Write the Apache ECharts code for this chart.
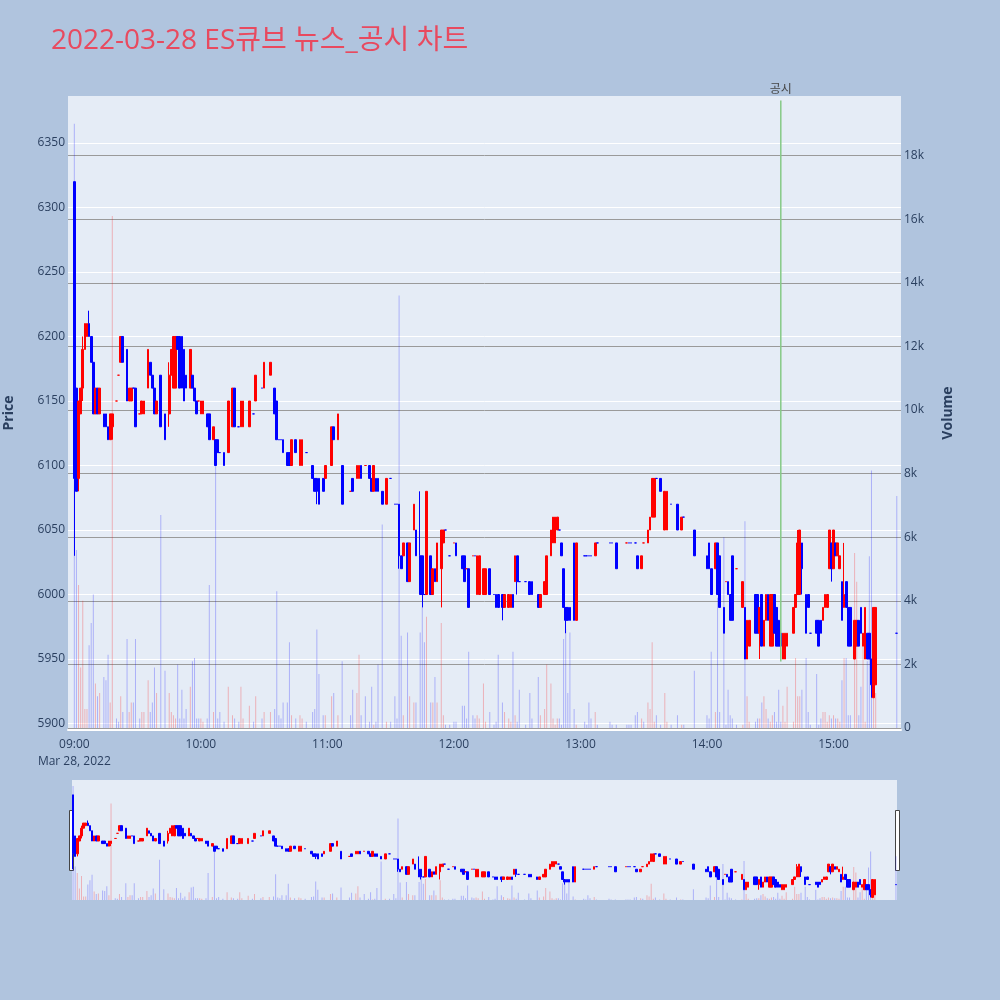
<!DOCTYPE html>
<html>
<head>
<meta charset="utf-8">
<script src="https://cdn.jsdelivr.net/npm/echarts@6/dist/echarts.min.js"></script>
<style>
  html, body { margin: 0; padding: 0; background: #b0c4de; }
  #chart { width: 1000px; height: 1000px; }
</style>
</head>
<body>
<div id="chart"></div>
<script>
// 1분봉 시각 (거래 없는 분은 빠짐)
const times = [
  '09:00','09:01','09:02','09:03','09:04','09:05','09:06','09:07','09:08','09:09',
  '09:10','09:11','09:12','09:14','09:15','09:16','09:17','09:18','09:20','09:21',
  '09:22','09:23','09:25','09:26','09:27','09:28','09:29','09:31','09:32','09:33',
  '09:35','09:36','09:37','09:38','09:39','09:41','09:43','09:45','09:46','09:47',
  '09:48','09:49','09:50','09:51','09:52','09:53','09:55','09:56','09:57','09:58',
  '09:59',
  '10:00','10:01','10:03','10:04','10:06','10:07','10:08','10:09','10:11','10:13',
  '10:15','10:16','10:18','10:19','10:20','10:23','10:25','10:26','10:29','10:30',
  '10:33','10:35','10:36','10:37','10:38','10:39','10:41','10:42','10:43','10:45',
  '10:47','10:48','10:50','10:53','10:54','10:55','10:56','10:58','10:59',
  '11:02','11:03','11:05','11:07','11:11','11:12','11:14','11:15','11:16','11:18',
  '11:20','11:21','11:22','11:23','11:24','11:26','11:28','11:30','11:32','11:33',
  '11:34','11:35','11:36','11:38','11:39','11:41','11:42','11:44','11:45','11:46',
  '11:47','11:49','11:50','11:51','11:52','11:54','11:55','11:56','11:58',
  '12:00','12:01','12:04','12:05','12:06','12:07','12:09','12:10','12:11','12:12',
  '12:14','12:15','12:17','12:19','12:20','12:21','12:23','12:24','12:26','12:27',
  '12:28','12:29','12:30','12:31','12:34','12:36','12:37','12:40','12:41','12:43',
  '12:44','12:46','12:47','12:48','12:49','12:50','12:51','12:52','12:53','12:54',
  '12:55','12:57','12:58',
  '13:02','13:03','13:04','13:05','13:07','13:08','13:14','13:15','13:17','13:22',
  '13:23','13:24','13:26','13:27','13:29','13:30','13:32','13:33','13:34','13:35',
  '13:36','13:38','13:40','13:41','13:43','13:46','13:48','13:49','13:54',
  '14:00','14:01','14:02','14:04','14:05','14:06','14:08','14:09','14:10','14:11',
  '14:12','14:14','14:17','14:18','14:19','14:20','14:23','14:24','14:25','14:26',
  '14:27','14:28','14:29','14:30','14:31','14:32','14:33','14:34','14:35','14:36',
  '14:37','14:38','14:41','14:42','14:43','14:44','14:45','14:47','14:48','14:49',
  '14:52','14:53','14:54','14:55','14:56','14:57','14:58','14:59','15:00',
  '15:01','15:02','15:03','15:04','15:05','15:06','15:07','15:08','15:10','15:11',
  '15:12','15:13','15:14','15:15','15:16','15:17','15:18','15:19','15:20','15:30'
];

const opens = [
  6320,6160,6090,6140,6160,6190,6200,6210,6200,6180, 6140,6160,6140,6140,6140,6130,6120,6130,6150,6170,
  6180,6200,6190,6150,6150,6160,6160,6140,6140,6140, 6160,6180,6170,6160,6140,6170,6140,6140,6170,6160,
  6160,6200,6200,6200,6190,6170,6160,6170,6160,6150, 6150,
  6140,6140,6140,6140,6120,6120,6120,6110,6110,6110, 6130,6160,6130,6130,6130,6130,6140,6150,6160,6160,
  6170,6160,6150,6120,6120,6120,6110,6110,6100,6120, 6100,6100,6110,6100,6090,6090,6090,6090,6090,
  6100,6130,6120,6100,6080,6090,6090,6090,6100,6100, 6100,6090,6080,6090,6090,6080,6070,6090,6070,6070,
  6070,6030,6030,6040,6010,6050,6050,6030,6030,6000, 6000,6030,6000,6020,6010,6020,6040,6050,6030,
  6040,6040,6030,6030,6020,6020,6030,6030,6000,6000, 6000,6000,6020,6000,6000,6000,6000,5990,5990,5990,
  6000,6010,6030,6010,6010,6010,6010,6000,5990,6000, 6000,6030,6040,6040,6050,6050,6040,6020,5990,5990,
  5990,6040,5980,
  6030,6030,6030,6030,6030,6040,6040,6040,6040,6040, 6040,6040,6040,6030,6020,6040,6040,6050,6060,6060,
  6090,6090,6050,6050,6070,6070,6050,6060,6050,
  6030,6040,6020,6020,6040,6030,5990,6010,6010,6000, 6030,6020,5990,5990,5950,5960,6000,6000,5970,6000,
  5960,5980,6000,5960,5960,6000,5990,5980,5970,5950, 5950,5960,5970,5990,6000,6000,6040,6000,6000,5970,
  5980,5980,5980,5980,5990,5990,6020,6040,6020,
  6040,6030,6020,6010,5990,6010,5990,5990,5950,5960, 5980,5990,5960,5950,5970,5970,5950,5920,5930,5970
];

const highs = [
  6320,6160,6150,6160,6200,6210,6210,6220,6200,6180, 6160,6160,6160,6140,6140,6130,6140,6140,6150,6170,
  6200,6200,6190,6160,6160,6160,6160,6140,6150,6150, 6190,6180,6170,6160,6150,6170,6140,6180,6190,6200,
  6200,6200,6200,6200,6190,6170,6190,6170,6160,6150, 6150,
  6150,6150,6140,6140,6130,6120,6120,6110,6110,6150, 6160,6160,6130,6150,6150,6150,6140,6170,6160,6180,
  6180,6160,6150,6120,6120,6120,6110,6110,6120,6120, 6120,6120,6110,6100,6090,6090,6090,6090,6100,
  6130,6130,6140,6100,6080,6090,6100,6100,6100,6100, 6100,6090,6100,6090,6090,6080,6090,6090,6070,6070,
  6070,6030,6040,6040,6040,6070,6050,6080,6030,6000, 6080,6030,6020,6020,6040,6050,6050,6050,6030,
  6040,6040,6030,6030,6020,6020,6030,6030,6030,6030, 6020,6020,6020,6000,6000,6000,6000,6000,6000,6000,
  6000,6030,6030,6010,6010,6010,6010,6000,6000,6010, 6030,6050,6060,6060,6060,6050,6040,6020,5990,5990,
  5990,6040,6040,
  6030,6030,6030,6030,6040,6040,6040,6040,6040,6040, 6040,6040,6040,6030,6030,6040,6050,6060,6090,6090,
  6090,6090,6080,6080,6070,6070,6060,6060,6050,
  6030,6040,6020,6040,6040,6030,5990,6010,6010,6000, 6030,6020,6010,5990,5980,5980,6000,6000,5990,6000,
  5980,6000,6000,6000,6000,6000,5990,5980,5970,5970, 5970,5970,5990,6000,6050,6050,6040,6000,6000,5970,
  5980,5980,5980,5990,6000,6000,6050,6040,6050,
  6040,6040,6030,6010,6040,6010,5990,5990,5980,5980, 5980,5990,5970,5990,5970,5970,5950,5990,5990,5970
];

const lows = [
  6030,6080,6080,6140,6150,6190,6200,6200,6180,6140, 6140,6140,6140,6130,6130,6120,6120,6120,6150,6170,
  6180,6180,6150,6150,6150,6160,6130,6140,6140,6140, 6160,6170,6160,6140,6140,6130,6120,6130,6170,6160,
  6160,6190,6160,6160,6150,6160,6160,6160,6150,6140, 6150,
  6140,6140,6130,6120,6120,6100,6110,6110,6100,6110, 6130,6130,6130,6130,6130,6130,6140,6150,6160,6160,
  6170,6140,6120,6120,6120,6110,6100,6100,6100,6110, 6100,6100,6110,6090,6080,6070,6070,6080,6090,
  6100,6120,6120,6070,6080,6080,6090,6090,6090,6100, 6090,6080,6080,6080,6080,6070,6070,6090,6070,6070,
  6020,6020,6030,6010,6010,6050,6030,6000,5990,6000, 6000,6000,6000,6010,6010,5990,6040,6050,6030,
  6040,6030,6020,6010,6020,5990,6030,6030,6000,6000, 6000,6000,6000,6000,5990,5990,5980,5990,5990,5990,
  5990,6010,6000,6010,6010,6000,6000,5990,5990,6000, 6000,6030,6040,6040,6050,6050,6030,5990,5970,5980,
  5980,5980,5980,
  6030,6030,6030,6030,6030,6040,6040,6040,6020,6040, 6040,6040,6040,6020,6020,6040,6040,6050,6060,6060,
  6090,6080,6050,6050,6070,6050,6050,6060,6030,
  6020,6020,6000,6020,6000,5990,5970,6010,6000,5980, 5980,6020,5990,5950,5950,5960,5970,5970,5950,5960,
  5960,5980,5980,5960,5960,5970,5960,5960,5960,5950, 5950,5960,5970,5990,6000,6000,6000,5970,5990,5970,
  5970,5960,5970,5980,5990,5990,6020,6010,6020,
  6030,6030,6020,5980,5990,5990,5960,5960,5950,5960, 5960,5970,5960,5950,5950,5950,5920,5920,5930,5970
];

const closes = [
  6090,6080,6150,6160,6190,6210,6210,6200,6180,6140, 6160,6140,6160,6130,6130,6120,6140,6140,6150,6170,
  6200,6180,6150,6160,6160,6160,6130,6140,6150,6150, 6190,6170,6160,6140,6150,6130,6120,6170,6190,6200,
  6200,6190,6160,6160,6150,6160,6190,6160,6150,6140, 6150,
  6150,6150,6130,6120,6130,6100,6110,6110,6100,6150, 6160,6130,6130,6150,6150,6150,6140,6170,6160,6180,
  6180,6140,6120,6120,6120,6110,6100,6100,6120,6110, 6120,6120,6110,6090,6080,6080,6070,6080,6100,
  6130,6120,6140,6070,6080,6080,6100,6100,6090,6100, 6090,6080,6100,6080,6080,6070,6090,6090,6070,6070,
  6030,6020,6040,6010,6040,6070,6030,6000,6000,6000, 6080,6000,6020,6010,6040,6050,6050,6050,6030,
  6040,6030,6020,6010,6020,5990,6030,6030,6030,6030, 6020,6020,6000,6000,5990,5990,5990,6000,6000,6000,
  5990,6030,6010,6010,6010,6000,6000,5990,6000,6010, 6030,6050,6060,6060,6060,6050,6030,5990,5980,5980,
  5980,5980,6040,
  6030,6030,6030,6030,6040,6040,6040,6040,6020,6040, 6040,6040,6040,6020,6030,6040,6050,6060,6090,6090,
  6090,6080,6080,6080,6070,6050,6060,6060,6030,
  6020,6020,6000,6040,6000,5990,5970,6010,6000,5980, 5980,6020,6010,5950,5980,5980,5970,5970,5990,5960,
  5980,6000,5980,6000,6000,5970,5960,5960,5960,5970, 5970,5970,5990,6000,6040,6050,6020,5970,5990,5970,
  5970,5960,5970,5990,6000,6000,6050,6020,6050,
  6030,6040,6030,5980,6000,5990,5960,5960,5980,5980, 5960,5970,5970,5990,5950,5950,5930,5990,5990,5970
];

const volumes = [
  19000,5600,4500,1900,4000,600,600,2600,3300,4200, 1400,1000,1100,1600,1500,2300,800,16100,300,200,
  1000,500,2800,500,800,800,2800,300,500,500, 1500,500,800,1900,1100,6700,1800,1100,500,400,
  300,2000,300,1200,300,600,1300,2100,2200,300, 300,
  300,200,300,4500,500,8400,300,500,200,1300, 400,300,200,1300,300,700,200,1000,300,500,
  500,600,4300,400,300,800,800,2700,400,300, 400,300,200,500,600,3100,1700,400,400,
  1000,1100,400,2100,400,1200,1100,2300,400,1000, 200,1300,100,200,2000,6400,200,200,1000,300,
  13600,2900,400,3000,1000,800,800,3000,3800,2700, 3500,800,800,1600,800,3300,400,100,100,
  200,200,700,700,300,2400,400,300,400,300, 1400,200,500,100,200,2300,800,500,300,200,
  2400,400,200,1200,100,1100,300,1600,400,600, 2000,1400,300,100,300,300,100,2800,3100,1100,
  3000,600,100,
  200,100,800,300,500,100,200,100,100,100, 100,100,400,500,300,200,800,600,2700,200,
  400,100,1100,200,100,400,100,100,1800,
  400,300,2400,500,4100,500,6000,100,1200,400, 300,100,100,6500,1000,200,200,300,300,800,
  1000,600,300,200,400,500,200,1200,200,700, 200,1300,200,2200,1000,1000,1200,2200,500,100,
  1700,100,300,500,500,200,400,300,400,
  300,300,200,1500,2200,2200,400,400,5500,4600, 400,1300,2700,200,2100,5400,8100,1200,1100,7300
];

// 축 눈금
const hourLabels = ['09:00','10:00','11:00','12:00','13:00','14:00','15:00'];
const dateLabel = 'Mar 28, 2022';
const priceTicks = [5900,5950,6000,6050,6100,6150,6200,6250,6300,6350];
const volumeTicks = [0,2000,4000,6000,8000,10000,12000,14000,16000,18000];

// 공시 시각과 표시선 범위(가격)
const noticeTime = '14:35';
const noticeSpan = [5948, 6383];

const FONT = '"Open Sans", "Noto Sans CJK KR", sans-serif';
const UP = '#ff0000', DOWN = '#0000ff';

const toMinute = t => (parseInt(t.slice(0, 2), 10) - 9) * 60 + parseInt(t.slice(3), 10);
const minutes = times.map(toMinute);

// 보합(시가=종가) 봉은 직전 종가와 비교해서 색을 정함
const candleData = minutes.map((m, i) => {
    const item = { value: [m, opens[i], closes[i], lows[i], highs[i]] };
    if (opens[i] === closes[i]) {
        const prev = i > 0 ? closes[i - 1] : opens[i];
        const c = closes[i] > prev ? UP : DOWN;
        item.itemStyle = { color: c, color0: c, borderColor: c, borderColor0: c, borderColorDoji: c };
    }
    return item;
});
const volumeData = minutes.map((m, i) => ({
    value: [m, volumes[i]],
    itemStyle: { color: closes[i] > opens[i] ? 'rgba(255,0,0,0.25)' : 'rgba(0,0,255,0.25)' }
}));
const hourMinutes = hourLabels.map(toMinute);
const noticeMin = toMinute(noticeTime);

var myChart = echarts.init(document.getElementById('chart'));

const candleStyle = {
    color: UP, color0: DOWN,
    borderColor: UP, borderColor0: DOWN,
    borderWidth: 1
};

const option = {
    animation: false,
    backgroundColor: '#b0c4de',
    textStyle: { fontFamily: FONT },
    title: {
        text: '2022-03-28 ES큐브 뉴스_공시 차트',
        left: 46, top: 22,
        textStyle: { color: '#e84a5f', fontSize: 28, fontWeight: 'normal', fontFamily: FONT }
    },
    grid: [
        { left: 68, right: 99, top: 96, height: 634, show: true, backgroundColor: '#e5ecf6', borderWidth: 0, outerBoundsMode: 'none', containLabel: false },
        { left: 72, right: 103, top: 780, height: 120, show: true, backgroundColor: '#e5ecf6', borderWidth: 0, outerBoundsMode: 'none', containLabel: false }
    ],
    xAxis: [
        {
            type: 'value', gridIndex: 0, min: -3, max: 392,
            axisLine: { show: true, onZero: false, lineStyle: { color: '#ffffff', width: 2 } },
            axisTick: { show: false },
            splitLine: { show: false },
            axisLabel: {
                customValues: hourMinutes,
                color: '#2a3f5f', fontSize: 12, margin: 6, lineHeight: 17,
                formatter: v => {
                    const lbl = hourLabels[hourMinutes.indexOf(v)];
                    return v === 0 ? lbl + '\n' + dateLabel : lbl;
                }
            }
        },
        { type: 'value', gridIndex: 1, min: -0.5, max: 390.5, show: false }
    ],
    yAxis: [
        {
            type: 'value', gridIndex: 0, position: 'left', min: 5895, max: 6386.4,
            name: 'Price', nameLocation: 'middle', nameGap: 52, nameRotate: 90,
            nameTextStyle: { color: '#2a3f5f', fontSize: 14, fontWeight: 'bold' },
            axisLine: { show: false },
            axisTick: { show: false, customValues: priceTicks },
            axisLabel: { customValues: priceTicks, color: '#2a3f5f', fontSize: 12, margin: 3, formatter: v => String(v) },
            splitLine: { show: true, lineStyle: { color: '#ffffff', width: 1 } }
        },
        {
            type: 'value', gridIndex: 0, position: 'right', min: -63, max: 19876,
            name: 'Volume', nameLocation: 'middle', nameGap: 40, nameRotate: 90,
            nameTextStyle: { color: '#2a3f5f', fontSize: 14, fontWeight: 'bold' },
            axisLine: { show: false },
            axisTick: { show: false, customValues: volumeTicks },
            axisLabel: {
                customValues: volumeTicks, color: '#2a3f5f', fontSize: 12, margin: 3,
                formatter: v => v === 0 ? '0' : (v / 1000) + 'k'
            },
            splitLine: { show: true, lineStyle: { color: '#9a9a9a', width: 1 } }
        },
        { type: 'value', gridIndex: 1, min: 5910, max: 6378, show: false },
        { type: 'value', gridIndex: 1, min: 0, max: 20000, show: false }
    ],
    series: [
        {
            name: 'Volume', type: 'bar', xAxisIndex: 0, yAxisIndex: 1,
            barWidth: 1, silent: true, z: 1,
            data: volumeData
        },
        {
            name: 'Price', type: 'candlestick', xAxisIndex: 0, yAxisIndex: 0,
            barWidth: 2.2, z: 3,
            encode: { x: 0, y: [1, 2, 3, 4] },
            itemStyle: candleStyle,
            data: candleData
        },
        {
            // 공시 표시선
            name: '공시', type: 'line', xAxisIndex: 0, yAxisIndex: 0,
            z: 4, silent: true, symbol: 'circle', symbolSize: 0.1, showSymbol: true,
            lineStyle: { color: '#86c986', width: 1.5 },
            itemStyle: { color: '#86c986' },
            data: [
                [noticeMin, noticeSpan[0]],
                {
                    value: [noticeMin, noticeSpan[1]],
                    label: { show: true, position: 'top', distance: 5, formatter: '공시', color: '#444', fontSize: 12 }
                }
            ]
        },
        {
            type: 'bar', xAxisIndex: 1, yAxisIndex: 3,
            barWidth: 1, silent: true, z: 1,
            data: volumeData
        },
        {
            type: 'candlestick', xAxisIndex: 1, yAxisIndex: 2,
            barWidth: 2, silent: true, z: 3,
            encode: { x: 0, y: [1, 2, 3, 4] },
            itemStyle: candleStyle,
            data: candleData
        }
    ],
    graphic: [
        { type: 'rect', left: 69, top: 810, shape: { width: 4, height: 60 }, style: { fill: '#fff', stroke: '#444', lineWidth: 1 } },
        { type: 'rect', left: 895, top: 810, shape: { width: 4, height: 60 }, style: { fill: '#fff', stroke: '#444', lineWidth: 1 } }
    ]
};

myChart.setOption(option);
</script>
</body>
</html>
